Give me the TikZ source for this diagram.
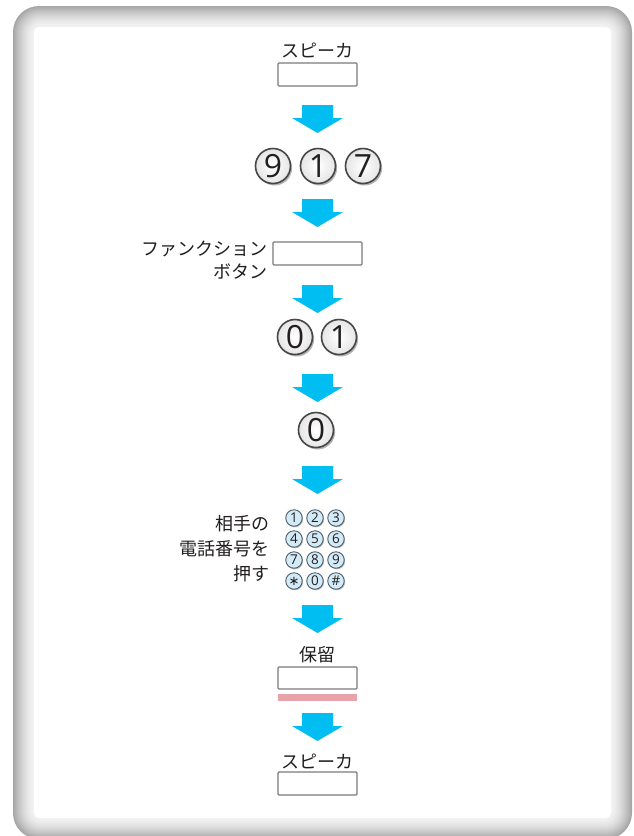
\documentclass[tikz,border=0pt]{standalone}
\usepackage{fontspec}
\setmainfont{Noto Sans CJK JP}
\newfontfamily\digitfont{Open Sans}
\newfontfamily\symfont{DejaVu Sans}
\usetikzlibrary{shadows,calc}
\definecolor{arrowcyan}{HTML}{00BDF2}
\definecolor{boxgray}{HTML}{7A7A7A}
\definecolor{pinkbar}{HTML}{E8A3AA}
\definecolor{padfill}{HTML}{D3EAF7}
\definecolor{padline}{HTML}{4E5E6C}
\definecolor{txt}{HTML}{231F20}
\tikzset{
  jtext/.style={font=\fontsize{18}{18}\selectfont, text=txt, inner sep=0pt},
  blankbox/.style={draw=boxgray, line width=1.2pt, fill=white, rounded corners=1pt},
  bigkey/.style={circle, draw=black!72, line width=1.6pt, minimum size=35pt, inner sep=0pt,
    inner color=white, outer color=black!10, text=txt,
    font=\digitfont\fontsize{32}{32}\selectfont,
    drop shadow={shadow xshift=1.6pt, shadow yshift=-2pt, fill=black!55, opacity=0.55}},
  padkey/.style={circle, draw=padline, line width=0.9pt, minimum size=16.5pt, inner sep=0pt,
    fill=padfill, text=txt, font=\digitfont\fontsize{13.5}{13.5}\selectfont,
    drop shadow={shadow xshift=0.9pt, shadow yshift=-1.1pt, fill=black!50, opacity=0.5}},
  flowarrow/.style={fill=arrowcyan},
}
\newcommand{\downarrowat}[1]{%
  \fill[flowarrow] ($(#1)+(-15.5,0)$) -- ++(31,0) -- ++(0,13) -- ++(10,0) -- ($(#1)+(0,28)$)
    -- ($(#1)+(-25.5,13)$) -- ++(10,0) -- cycle;}
\begin{document}
\begin{tikzpicture}[x=1pt,y=-1pt]
\useasboundingbox (0,0) rectangle (633,836);
% frame
\foreach \i in {0,...,21} {
  \pgfmathsetmacro\g{5+30*(1-\i/21)^1.6}
  \pgfmathsetmacro\r{26-\i*0.9}
  \fill[black!\g, rounded corners=\r pt] (13+\i,6+\i) rectangle (632-\i,839-\i);
}
\fill[white, rounded corners=5pt] (34,27) rectangle (611,818);

% step 1: speaker
\node[jtext] (spk1) at (317.5,50) {スピーカ};
\draw[blankbox] (278,63) rectangle (357,86);
\coordinate (a1) at (317.5,105);
\downarrowat{a1}

% step 2: 9 1 7
\node[bigkey] (k9) at (273,166) {9};
\node[bigkey] (k1) at (318,166) {1};
\node[bigkey] (k7) at (363,166) {7};
\coordinate (a2) at (317.5,199);
\downarrowat{a2}

% step 3: function button
\draw[blankbox] (273,242) rectangle (362,265);
\node[jtext, anchor=east] (fn1) at (268,249) {ファンクション};
\node[jtext, anchor=east] (fn2) at (268,272) {ボタン};
\coordinate (a3) at (317.5,285);
\downarrowat{a3}

% step 4: 0 1
\node[bigkey] (k0a) at (295,337) {0};
\node[bigkey] (k1b) at (339,337) {1};
\coordinate (a4) at (317.5,374);
\downarrowat{a4}

% step 5: 0
\node[bigkey] (k0b) at (316,430) {0};
\coordinate (a5) at (317.5,466);
\downarrowat{a5}

% step 6: keypad
\node[jtext, anchor=east] (t1) at (270,524) {相手の};
\node[jtext, anchor=east] (t2) at (270,549) {電話番号を};
\node[jtext, anchor=east] (t3) at (270,574) {押す};
\foreach \lab [count=\n from 0] in {1,2,3,4,5,6,7,8,9,{\symfont\fontsize{13}{13}\selectfont ∗},0,\#} {
  \pgfmathtruncatemacro\col{mod(\n,3)}
  \pgfmathtruncatemacro\row{int(\n/3)}
  \node[padkey] (p\n) at (294+21*\col, 518+21*\row) {\lab};
}
\coordinate (a6) at (317.5,605);
\downarrowat{a6}

% step 7: hold
\node[jtext] (hold) at (317.5,655) {保留};
\draw[blankbox] (278,667) rectangle (357,689);
\fill[pinkbar] (278,694) rectangle (357,701);
\coordinate (a7) at (317.5,713);
\downarrowat{a7}

% step 8: speaker
\node[jtext] (spk2) at (317.5,761) {スピーカ};
\draw[blankbox] (278,772) rectangle (357,795);
\end{tikzpicture}
\end{document}
